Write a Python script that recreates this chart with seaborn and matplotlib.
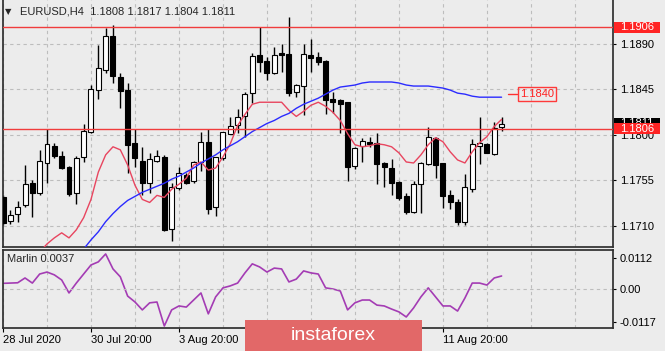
import numpy as np
import pandas as pd
import seaborn as sns
import matplotlib.pyplot as plt
from matplotlib.patches import Rectangle
from matplotlib.transforms import blended_transform_factory

nan = np.nan

# EURUSD H4 candles, 28 Jul 20:00 .. 13 Aug 04:00
opens = [1.1738, 1.1715, 1.1722, 1.1730, 1.1752, 1.1742, 1.1772, 1.1789, 1.1779, 1.1768,
         1.1742, 1.1778, 1.1803, 1.1844, 1.1864, 1.1897, 1.1857, 1.1844, 1.1792, 1.1774,
         1.1752, 1.1774, 1.1778, 1.1707, 1.1747, 1.1760, 1.1754, 1.1773, 1.1793, 1.1729,
         1.1777, 1.1801, 1.1810, 1.1818, 1.1841, 1.1879, 1.1873, 1.1861, 1.1881, 1.1880,
         1.1842, 1.1848, 1.1879, 1.1877, 1.1873, 1.1835, 1.1834, 1.1832, 1.1769, 1.1789,
         1.1793, 1.1792, 1.1772, 1.1767, 1.1753, 1.1739, 1.1724, 1.1751, 1.1771, 1.1797,
         1.1772, 1.1740, 1.1733, 1.1714, 1.1746, 1.1789, 1.1791, 1.1781, 1.1808]
highs = [1.1740, 1.1726, 1.1734, 1.1770, 1.1755, 1.1785, 1.1806, 1.1792, 1.1784, 1.1769,
         1.1779, 1.1811, 1.1849, 1.1889, 1.1905, 1.1908, 1.1861, 1.1851, 1.1806, 1.1788,
         1.1782, 1.1785, 1.1780, 1.1752, 1.1768, 1.1762, 1.1774, 1.1803, 1.1806, 1.1778,
         1.1803, 1.1817, 1.1825, 1.1842, 1.1881, 1.1906, 1.1877, 1.1887, 1.1890, 1.1916,
         1.1850, 1.1890, 1.1894, 1.1882, 1.1874, 1.1842, 1.1835, 1.1832, 1.1788, 1.1797,
         1.1798, 1.1802, 1.1773, 1.1776, 1.1754, 1.1742, 1.1754, 1.1773, 1.1808, 1.1798,
         1.1772, 1.1745, 1.1736, 1.1761, 1.1796, 1.1817, 1.1792, 1.1812, 1.1817]
lows = [1.1711, 1.1712, 1.1714, 1.1729, 1.1719, 1.1740, 1.1752, 1.1777, 1.1766, 1.1739,
        1.1731, 1.1773, 1.1802, 1.1835, 1.1861, 1.1851, 1.1826, 1.1762, 1.1768, 1.1740,
        1.1742, 1.1773, 1.1705, 1.1695, 1.1745, 1.1751, 1.1752, 1.1764, 1.1722, 1.1720,
        1.1775, 1.1801, 1.1802, 1.1798, 1.1831, 1.1862, 1.1854, 1.1860, 1.1862, 1.1838,
        1.1837, 1.1819, 1.1862, 1.1869, 1.1820, 1.1821, 1.1802, 1.1754, 1.1766, 1.1773,
        1.1788, 1.1751, 1.1748, 1.1740, 1.1735, 1.1722, 1.1723, 1.1723, 1.1770, 1.1757,
        1.1728, 1.1727, 1.1711, 1.1711, 1.1743, 1.1771, 1.1782, 1.1780, 1.1804]
closes = [1.1713, 1.1721, 1.1729, 1.1751, 1.1742, 1.1774, 1.1791, 1.1779, 1.1767, 1.1741,
          1.1777, 1.1804, 1.1845, 1.1866, 1.1897, 1.1858, 1.1843, 1.1790, 1.1777, 1.1752,
          1.1776, 1.1779, 1.1706, 1.1748, 1.1762, 1.1752, 1.1773, 1.1793, 1.1727, 1.1778,
          1.1803, 1.1809, 1.1817, 1.1840, 1.1878, 1.1872, 1.1861, 1.1879, 1.1879, 1.1841,
          1.1849, 1.1880, 1.1876, 1.1872, 1.1834, 1.1832, 1.1830, 1.1768, 1.1787, 1.1794,
          1.1791, 1.1771, 1.1768, 1.1752, 1.1737, 1.1724, 1.1751, 1.1772, 1.1798, 1.1770,
          1.1739, 1.1733, 1.1714, 1.1748, 1.1791, 1.1792, 1.1782, 1.1807, 1.1811]

# moving averages
ma_fast = [nan] * 5 + [
    1.1684, 1.1692, 1.1698, 1.1703, 1.1698, 1.1706, 1.1718, 1.1736, 1.1763, 1.1780,
    1.1788, 1.1785, 1.1770, 1.1750, 1.1736, 1.1733, 1.1740, 1.1738, 1.1746, 1.1751,
    1.1757, 1.1770, 1.1773, 1.1765, 1.1767, 1.1778, 1.1791, 1.1809, 1.1820, 1.1830,
    1.1832, 1.1832, 1.1832, 1.1832, 1.1824, 1.1818, 1.1823, 1.1829, 1.1832, 1.1828,
    1.1822, 1.1814, 1.1801, 1.1790, 1.1788, 1.1789, 1.1791, 1.1790, 1.1788, 1.1782,
    1.1773, 1.1772, 1.1780, 1.1790, 1.1797, 1.1793, 1.1783, 1.1775, 1.1772, 1.1783,
    1.1792, 1.1798, 1.1808, 1.1815]
ma_slow = [nan] * 11 + [
    1.1687, 1.1696, 1.1704, 1.1714, 1.1722, 1.1729, 1.1735, 1.1739, 1.1743, 1.1746,
    1.1749, 1.1752, 1.1756, 1.1759, 1.1763, 1.1767, 1.1772, 1.1776, 1.1780, 1.1785,
    1.1789, 1.1793, 1.1798, 1.1803, 1.1807, 1.1811, 1.1814, 1.1818, 1.1821, 1.1826,
    1.1830, 1.1833, 1.1836, 1.1840, 1.1844, 1.1847, 1.1848, 1.1849, 1.1851, 1.1852,
    1.1852, 1.1852, 1.1852, 1.1851, 1.1849, 1.1848, 1.1848, 1.1848, 1.1847, 1.1846,
    1.1844, 1.1841, 1.1840, 1.1838, 1.1837, 1.1837, 1.1837, 1.1837]

marlin = [0.0021, 0.0022, 0.0023, 0.0040, 0.0022, 0.0054, 0.0061, 0.0051, 0.0033, -0.0013,
          0.0022, 0.0054, 0.0086, 0.0097, 0.0125, 0.0072, 0.0044, -0.0024, -0.0045, -0.0073,
          -0.0048, -0.0045, -0.0130, -0.0073, -0.0059, -0.0063, -0.0038, -0.0013, -0.0087, -0.0027,
          0.0005, 0.0012, 0.0022, 0.0058, 0.0090, 0.0079, 0.0061, 0.0075, 0.0072, 0.0026,
          0.0036, 0.0065, 0.0058, 0.0054, 0.0005, 0.0001, -0.0006, -0.0073, -0.0048, -0.0038,
          -0.0038, -0.0056, -0.0059, -0.0070, -0.0080, -0.0098, -0.0066, -0.0027, 0.0005, -0.0027,
          -0.0059, -0.0059, -0.0077, -0.0031, 0.0022, 0.0022, 0.0015, 0.0040, 0.0047]

level_lines = [1.1906, 1.1806]
current_price = 1.1811
target_price = 1.1840
price_ticks = [1.1890, 1.1845, 1.1800, 1.1755, 1.1710]
marlin_ticks = [0.0112, 0.0, -0.0117]
marlin_tick_labels = ["0.0112", "0.00", "-0.0117"]
date_bars = [0, 12, 24, 60]
date_labels = ["28 Jul 2020", "30 Jul 20:00", "3 Aug 20:00", "11 Aug 20:00"]

df = pd.DataFrame({"open": opens, "high": highs, "low": lows, "close": closes,
                   "ma_fast": ma_fast, "ma_slow": ma_slow, "marlin": marlin})
df["bar"] = np.arange(len(df))

BG = "#ececec"
sns.set_theme(style="white", rc={"axes.facecolor": BG, "figure.facecolor": BG,
                                 "axes.edgecolor": "#303030"})
plt.rcParams["font.family"] = ["Liberation Sans", "DejaVu Sans"]
plt.rcParams["font.size"] = 8

W, H = 665, 351
fig = plt.figure(figsize=(W / 100, H / 100), dpi=100)
ax = fig.add_axes([2.5 / W, 1 - 247 / H, 610.5 / W, 247 / H])
ax2 = fig.add_axes([2.5 / W, 1 - 328 / H, 610.5 / W, 78 / H])

grid_kw = dict(ls=(0, (3, 3)), color="#bdbdbd", lw=0.8)

# candles
up = df["close"] >= df["open"]
ax.vlines(df["bar"], df["low"], df["high"], color="black", lw=1, zorder=2)
body_bottom = df[["open", "close"]].min(axis=1)
body_h = (df["close"] - df["open"]).abs().clip(lower=0.00004)
ax.bar(df["bar"], body_h, bottom=body_bottom, width=0.68,
       color=np.where(up, "white", "black"), edgecolor="black", linewidth=0.8, zorder=3)

sns.lineplot(data=df, x="bar", y="ma_fast", ax=ax, color="#e8455f", lw=1, zorder=4, estimator=None)
sns.lineplot(data=df, x="bar", y="ma_slow", ax=ax, color="#2b2bff", lw=1, zorder=4, estimator=None)

for lv in level_lines:
    ax.axhline(lv, color="#f03c3c", lw=1, zorder=5)

ax.set_xlim(-0.07, 83.2)
ax.set_ylim(1.1689, 1.1933)
ax.set_xlabel("")
ax.set_ylabel("")
ax.set_xticks([])
ax.set_xticks(np.arange(0, 84, 6), minor=True)
ax.tick_params(axis="x", which="both", length=0, labelbottom=False)
ax.yaxis.tick_right()
ax.set_yticks(price_ticks)
ax.set_yticklabels([f"{p:.4f}" for p in price_ticks])
ax.tick_params(axis="y", right=True, length=2.5, width=0.8, pad=2.5, labelsize=8, colors="black")
ax.grid(True, axis="y", which="major", **grid_kw)
ax.grid(True, axis="x", which="minor", **grid_kw)
ax.spines["top"].set_visible(False)

# price tags on the right scale
tr = blended_transform_factory(ax.transAxes, ax.transData)
ppx = (1.1933 - 1.1689) / 247
def tag(price, text, fc, z):
    ax.add_patch(Rectangle((1 + 1 / 610.5, price - 5.5 * ppx), 46 / 610.5, 11 * ppx,
                           transform=tr, fc=fc, ec="none", clip_on=False, zorder=z))
    ax.text(1 + 7 / 610.5, price, text, transform=tr, ha="left", va="center",
            color="white", fontsize=8, clip_on=False, zorder=z + 0.5)

tag(current_price, f"{current_price:.4f}", "black", 11)
for lv in level_lines:
    tag(lv, f"{lv:.4f}", "#ff2424", 12)

# target label
ax.plot([68.9, 70.1], [target_price, target_price], color="#ff3030", lw=1, zorder=6)
ax.text(70.5, target_price, f"{target_price:.4f}", ha="left", va="center", color="#ff2020",
        fontsize=8, zorder=7,
        bbox=dict(boxstyle="square,pad=0.2", fc="none", ec="#ff3a3a", lw=1))

# Marlin oscillator
sns.lineplot(data=df, x="bar", y="marlin", ax=ax2, color="#a43cb4", lw=1.2, estimator=None)
ax2.axhline(0, **grid_kw)
ax2.set_xlim(-0.07, 83.2)
ax2.set_ylim(-0.0137, 0.0139)
ax2.set_xlabel("")
ax2.set_ylabel("")
ax2.set_xticks(date_bars)
ax2.set_xticklabels(date_labels)
for lab in ax2.get_xticklabels():
    lab.set_ha("left")
ax2.set_xticks(np.arange(0, 84, 6), minor=True)
ax2.tick_params(axis="x", which="major", bottom=True, length=3, width=0.8, pad=2,
                labelsize=8, colors="black")
ax2.tick_params(axis="x", which="minor", length=0)
ax2.grid(True, axis="x", which="both", **grid_kw)
ax2.yaxis.tick_right()
ax2.set_yticks(marlin_ticks)
ax2.set_yticklabels(marlin_tick_labels)
ax2.tick_params(axis="y", right=True, length=2.5, width=0.8, pad=2.5, labelsize=8, colors="black")

fig.text(5 / W, 1 - 12 / H, "\u25bc", fontsize=6, va="center", ha="left",
         family=["DejaVu Sans"])
fig.text(20 / W, 1 - 12 / H, "EURUSD,H4  1.1808 1.1817 1.1804 1.1811", fontsize=8,
         va="center", ha="left")
fig.text(7 / W, 1 - 259 / H, "Marlin 0.0037", fontsize=8, va="center", ha="left")

# watermark
fig.add_artist(Rectangle((245 / W, 0), 177 / W, 31 / H, transform=fig.transFigure,
                         fc="#e26868", ec="none", zorder=20))
fig.text(333 / W, 1 - 335 / H, "instaforex", color="white", fontsize=14,
         ha="center", va="center", zorder=21)

fig.savefig("out.png", dpi=100)
plt.close()
